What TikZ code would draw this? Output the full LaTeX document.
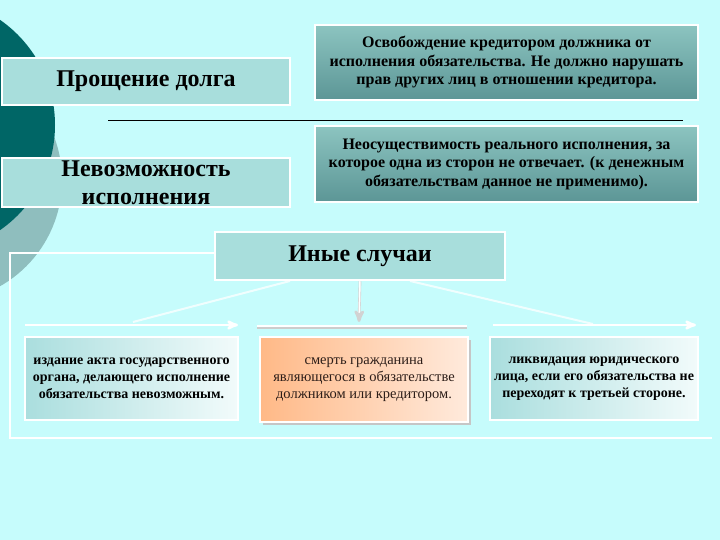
\documentclass[tikz,border=0pt]{standalone}
\usepackage{fontspec}
\setmainfont{Liberation Serif}
\usetikzlibrary{calc}
\usetikzlibrary{arrows}
\definecolor{bgcyan}{RGB}{198,252,252}
\definecolor{darkteal}{RGB}{0,102,102}
\definecolor{greyteal}{RGB}{143,190,190}
\definecolor{paleteal}{RGB}{168,222,220}
\definecolor{boxtop}{RGB}{140,196,192}
\definecolor{boxbot}{RGB}{92,150,150}
\definecolor{sideleft}{RGB}{170,222,222}
\definecolor{sideright}{RGB}{242,251,251}
\definecolor{orangeleft}{RGB}{255,185,135}
\definecolor{orangeright}{RGB}{255,234,220}
\definecolor{browntext}{RGB}{45,30,25}

\begin{document}
\begin{tikzpicture}[x=1pt,y=-1pt,
  palebox/.style={draw=white, line width=2.5pt, fill=paleteal, inner sep=0, align=center,
    font=\bfseries\fontsize{24}{28}\selectfont},
  darkbox/.style={draw=white, line width=2.5pt, top color=boxtop, bottom color=boxbot,
    inner sep=0, align=center, minimum width=383pt, font=\bfseries\fontsize{16}{18.5}\selectfont},
  sidebox/.style={draw=white, line width=2.5pt, left color=sideleft, right color=sideright,
    inner sep=0, align=center, minimum width=213pt, minimum height=83pt,
    font=\bfseries\fontsize{14}{17}\selectfont},
  whitearrow/.style={white, line width=2.5pt, -stealth'},
  faintline/.style={white, opacity=.75, line width=2pt}]
\useasboundingbox (0,0) rectangle (720,540);
\fill[bgcyan] (0,0) rectangle (720,540);
\begin{scope}
\clip (0,0) rectangle (720,540);
\fill[greyteal] (-60,180) circle (122pt);
\fill[darkteal] (-73,125) circle (128pt);
\end{scope}
\coordinate (fa) at (10,253);
\coordinate (fb) at (10,438);
\coordinate (fc) at (712,438);
\draw[white, line width=2.5pt] (214,253) -- (fa) -- (fb) -- (fc);
\node[palebox, minimum width=288pt, minimum height=47pt] (forgive) at (146,81.5) {Прощение долга};
\node[palebox, minimum width=288pt, minimum height=49pt] (impossible) at (146,182.5) {Невозможность\\исполнения};
\node[darkbox, minimum height=75pt] (release) at (506.5,62.5)
  {Освобождение кредитором должника от\\исполнения обязательства. Не должно нарушать\\прав других лиц в отношении кредитора.};
\node[darkbox, minimum height=76pt] (unreal) at (506.5,164)
  {Неосуществимость реального исполнения, за\\которое одна из сторон не отвечает. (к денежным\\обязательствам данное не применимо).};
\coordinate (ra) at (108,120);
\coordinate (rb) at (683,120);
\draw[black, line width=.8pt] (ra) -- (rb);
\node[palebox, minimum width=290pt, minimum height=48pt] (other) at (360,256) {Иные случаи};
\coordinate (la) at (25,325);
\coordinate (lb) at (238,325);
\coordinate (ma) at (257,326);
\coordinate (mb) at (467,326);
\coordinate (pa) at (493,325);
\coordinate (pb) at (696,325);
\draw[faintline] (290,281) -- (133,322);
\draw[faintline] (410,281) -- (593,324);
\draw[whitearrow] (la) -- (lb);
\draw[whitearrow] (pa) -- (pb);
\draw[gray!40, line width=3pt] ($(ma)+(0,1.5)$) -- ($(mb)+(0,1.5)$);
\draw[white, line width=2.5pt] (ma) -- (mb);
\draw[gray!35, double=white, double distance=1.5pt, line width=.6pt, -stealth'] (other.south) -- (359,322);
\node[sidebox] (act) at (131.5,378.5) {издание акта государственного\\органа, делающего исполнение\\обязательства невозможным.};
\fill[gray!45] (263,340) rectangle (471,425);
\node[sidebox, left color=orangeleft, right color=orangeright, minimum width=208pt, minimum height=85pt,
  text=browntext, font=\fontsize{14.5}{17}\selectfont] (death) at (364,379.5)
  {смерть гражданина\\являющегося в обязательстве\\должником или кредитором.};
\node[sidebox, minimum width=208pt] (liquid) at (594,378.5) {ликвидация юридического\\лица, если его обязательства не\\переходят к третьей стороне.};
\end{tikzpicture}
\end{document}
